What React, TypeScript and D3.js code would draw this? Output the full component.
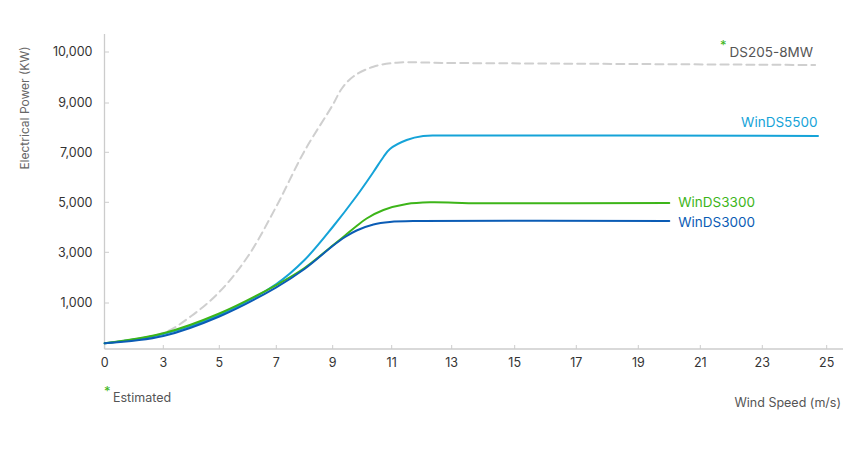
import React from 'react';
import * as d3 from 'd3';

const xTicks = [0, 3, 5, 7, 9, 11, 13, 15, 17, 19, 21, 23, 25];
const yTicks = [1000, 3000, 5000, 7000, 9000, 10000];
const yDomainStops = [0, 1000, 3000, 5000, 7000, 9000, 10000];

const ds205Speed = [0, 3, 4, 5, 6, 7, 8, 9, 9.31, 9.7, 10.38, 11.17, 13, 24.64];
const ds205Power = [124, 348, 717, 1434, 2834, 4832, 7053, 8919, 9284, 9520, 9712, 9790, 9784, 9745];

const wds5500Speed = [0, 3, 5, 7, 8, 9, 9.81, 10.38, 10.72, 10.94, 11.5, 12.05, 12.61, 24.73];
const wds5500Power = [124, 326, 739, 1750, 2696, 4012, 5252, 6212, 6812, 7134, 7499, 7661, 7682, 7661];

const wds3300Speed = [0, 3, 5, 7, 8, 9.02, 9.42, 9.81, 10.15, 10.72, 11.5, 12.28, 13.9, 20];
const wds3300Power = [124, 341, 772, 1710, 2381, 3292, 3672, 4052, 4352, 4692, 4932, 5000, 4960, 4972];

const wds3000Speed = [0, 3, 5, 7, 8, 9.02, 9.42, 9.81, 10.38, 10.94, 11.94, 20];
const wds3000Power = [124, 283, 707, 1619, 2341, 3272, 3612, 3872, 4112, 4212, 4252, 4252];

const FONT = 'Inter, "Noto Sans", sans-serif';

export default function App() {
  const x = d3
    .scaleLinear()
    .domain(xTicks)
    .range([104.7, 163.3, 219.3, 276.3, 332.7, 391.7, 451.7, 514.7, 576.3, 638.3, 700.3, 762.3, 826.7]);
  const y = d3
    .scaleLinear()
    .domain(yDomainStops)
    .range([349, 303, 252.3, 202.3, 152.3, 103, 52]);

  const line = d3
    .line<[number, number]>()
    .x((d) => x(d[0]))
    .y((d) => y(d[1]))
    .curve(d3.curveCatmullRom.alpha(0.5));

  const zip = (a: number[], b: number[]) => a.map((v, i) => [v, b[i]] as [number, number]);

  const series = [
    { name: 'DS205-8MW', data: zip(ds205Speed, ds205Power), color: '#cfcfcf', dash: '8,5' },
    { name: 'WinDS5500', data: zip(wds5500Speed, wds5500Power), color: '#15a3d8', dash: null },
    { name: 'WinDS3300', data: zip(wds3300Speed, wds3300Power), color: '#3db519', dash: null },
    { name: 'WinDS3000', data: zip(wds3000Speed, wds3000Power), color: '#0b5cb5', dash: null },
  ];

  const axisColor = '#cccccc';
  const x0 = 104.5;
  const yBase = 349;

  return (
    <div style={{ position: 'absolute', left: 0, top: 0 }}>
      <svg width={863} height={450} style={{ display: 'block', fontFamily: FONT }}>
        <rect width={863} height={450} fill="#ffffff" />
        <line x1={x0} x2={x0} y1={34} y2={yBase} stroke={axisColor} strokeWidth={1.3} />
        <line x1={x0} x2={843} y1={yBase} y2={yBase} stroke={axisColor} strokeWidth={1.3} />
        {yTicks.map((t) => (
          <g key={'y' + t}>
            <line x1={x0} x2={x0 + 4.5} y1={y(t)} y2={y(t)} stroke={axisColor} strokeWidth={1} />
            <text x={92.5} y={y(t)} dy="0.35em" textAnchor="end" fontSize={12.5} fill="#333">
              {d3.format(',')(t)}
            </text>
          </g>
        ))}
        {xTicks.map((t) => (
          <g key={'x' + t}>
            <line x1={x(t)} x2={x(t)} y1={yBase - 4} y2={yBase} stroke={axisColor} strokeWidth={1} />
            <text x={x(t)} y={362.5} dy="0.35em" textAnchor="middle" fontSize={12.5} fill="#333">
              {t}
            </text>
          </g>
        ))}
        <text
          transform="translate(25,108) rotate(-90)"
          textAnchor="middle"
          dy="0.35em"
          fontSize={12}
          fill="#666"
        >
          Electrical Power (KW)
        </text>
        <text x={841} y={402.5} dy="0.35em" textAnchor="end" fontSize={12.5} fill="#555">
          Wind Speed (m/s)
        </text>
        <text x={104} y={396} fontSize={13} fill="#3db519">*</text>
        <text x={113} y={398} dy="0.35em" fontSize={12.5} fill="#555">
          Estimated
        </text>

        {series.map((s) => (
          <path
            key={s.name}
            d={line(s.data) || ''}
            fill="none"
            stroke={s.color}
            strokeWidth={2}
            strokeLinecap="round"
            strokeDasharray={s.dash || undefined}
          />
        ))}

        <text x={720} y={50} fontSize={13} fill="#3db519">*</text>
        <text x={813} y={52} dy="0.35em" textAnchor="end" fontSize={13.5} fill="#555">
          DS205-8MW
        </text>
        <text x={817.5} y={122.3} dy="0.35em" textAnchor="end" fontSize={13.5} fill="#15a3d8">
          WinDS5500
        </text>
        <text x={678.3} y={202.3} dy="0.35em" fontSize={13.5} fill="#3db519">
          WinDS3300
        </text>
        <text x={678.3} y={222.7} dy="0.35em" fontSize={13.5} fill="#0b5cb5">
          WinDS3000
        </text>
      </svg>
    </div>
  );
}
